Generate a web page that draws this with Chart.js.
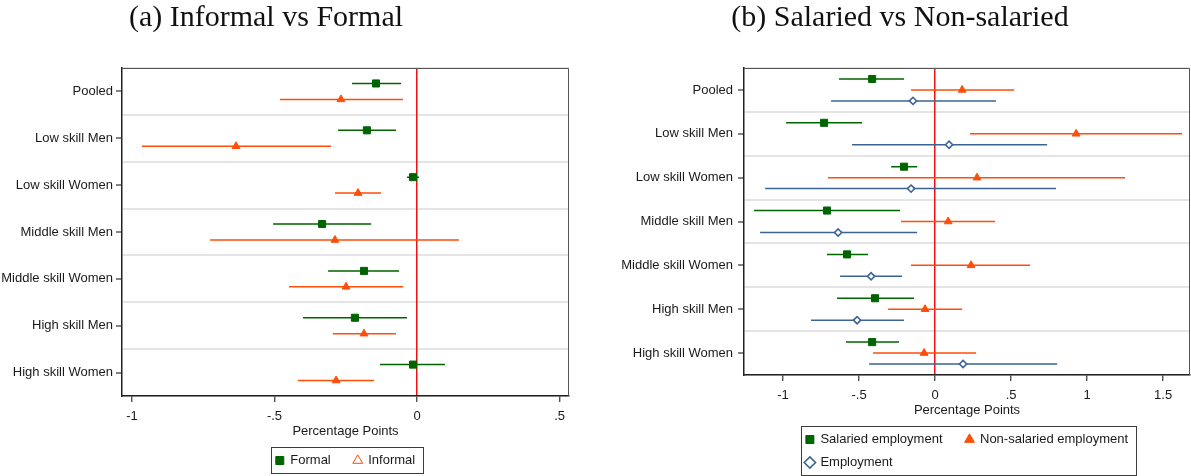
<!DOCTYPE html>
<html>
<head>
<meta charset="utf-8">
<script src="https://cdn.jsdelivr.net/npm/chart.js@4.4.1/dist/chart.umd.min.js"></script>
<style>
  body { margin: 0; background: #fff; }
  #wrap { position: relative; width: 1191px; height: 476px; }
  .panel { position: absolute; top: 0; }
  .ttl { position: absolute; top: 1px; font-family: "Liberation Serif", "Times New Roman", serif; font-size: 30px; line-height: 30px; color: #111; text-align: center; z-index: 2; }
</style>
</head>
<body>
<div id="wrap">
  <div class="ttl" style="left:0; width:532px">(a) Informal vs Formal</div>
  <div class="ttl" style="left:700px; width:400px">(b) Salaried vs Non-salaried</div>
  <div class="panel" style="left:0"><canvas id="informal" width="595" height="476"></canvas></div>
  <div class="panel" style="left:595px"><canvas id="salaried" width="596" height="476"></canvas></div>
</div>
<script>
// groups, top to bottom
const groups = ["Pooled", "Low skill Men", "Low skill Women", "Middle skill Men", "Middle skill Women", "High skill Men", "High skill Women"];

// (a) Informal vs Formal
const formal = [-0.144, -0.176, -0.014, -0.333, -0.186, -0.218, -0.014];
const formalLo = [-0.228, -0.277, -0.035, -0.505, -0.312, -0.400, -0.130];
const formalHi = [-0.056, -0.074, 0.007, -0.161, -0.063, -0.035, 0.098];
const informal = [-0.267, -0.635, -0.207, -0.288, -0.249, -0.186, -0.284];
const informalLo = [-0.481, -0.965, -0.288, -0.726, -0.449, -0.295, -0.418];
const informalHi = [-0.049, -0.302, -0.126, 0.147, -0.049, -0.074, -0.151];

// (b) Salaried vs Non-salaried
const salaried = [-0.414, -0.730, -0.204, -0.711, -0.579, -0.395, -0.414];
const salariedLo = [-0.632, -0.980, -0.289, -1.191, -0.711, -0.645, -0.586];
const salariedHi = [-0.204, -0.480, -0.118, -0.230, -0.441, -0.138, -0.237];
const nonSalaried = [0.178, 0.928, 0.276, 0.086, 0.237, -0.066, -0.072];
const nonSalariedLo = [-0.158, 0.230, -0.704, -0.224, -0.158, -0.309, -0.408];
const nonSalariedHi = [0.520, 1.625, 1.250, 0.395, 0.625, 0.178, 0.270];
const employment = [-0.145, 0.092, -0.158, -0.638, -0.421, -0.513, 0.184];
const employmentLo = [-0.684, -0.546, -1.118, -1.151, -0.625, -0.816, -0.434];
const employmentHi = [0.401, 0.737, 0.796, -0.118, -0.217, -0.204, 0.803];

// x axis ticks
const ticksA = [-1, -0.5, 0, 0.5];
const tickLabelsA = ["-1", "-.5", "0", ".5"];
const ticksB = [-1, -0.5, 0, 0.5, 1, 1.5];
const tickLabelsB = ["-1", "-.5", "0", ".5", "1", "1.5"];

const GREEN = "#006400";
const ORANGE = "#ff4d0a";
const NAVY = "#3a6494";

Chart.defaults.font.family = '"Liberation Sans", Arial, sans-serif';
Chart.defaults.font.size = 13;
Chart.defaults.color = "#1a1a1a";
Chart.defaults.animation = false;

function markers(values, shift) {
  return values.map((v, i) => ({ x: v, y: i + shift }));
}

// one dataset per series, segments split by null points
function spans(lo, hi, shift) {
  const out = [];
  lo.forEach((v, i) => {
    out.push({ x: v, y: i + shift }, { x: hi[i], y: i + shift }, { x: null, y: null });
  });
  return out;
}

function pointSet(label, values, shift, style, color, r, hollow, legendHollow) {
  return {
    label: label,
    data: markers(values, shift),
    pointStyle: style,
    pointRadius: r,
    pointHoverRadius: r,
    backgroundColor: hollow ? "#ffffff" : color,
    borderColor: color,
    borderWidth: hollow ? 1.6 : 1,
    legendFill: legendHollow ? "#ffffff" : null,
    showLine: false
  };
}

function ciSet(lo, hi, shift, color) {
  return {
    data: spans(lo, hi, shift),
    showLine: true,
    spanGaps: false,
    borderColor: color,
    backgroundColor: color,
    borderWidth: 1.5,
    pointRadius: 0,
    pointHoverRadius: 0
  };
}

// legend: cap width so rows wrap like the original, then centre the block under the plot
const legendPlace = {
  id: "legendPlace",
  beforeLayout(chart) {
    const lg = chart.legend;
    if (lg && !lg.capped) {
      const update = lg.update.bind(lg);
      lg.update = (w, h, m) => update(Math.min(w, 360), h, m);
      lg.capped = true;
    }
  },
  afterLayout(chart) {
    const lg = chart.legend;
    const a = chart.chartArea;
    const w = Math.max(...lg.lineWidths) + lg.options.labels.padding;
    lg.left = (a.left + a.right) / 2 - w / 2;
    lg.right = lg.left + w + 1;
    lg.width = w + 1;
  }
};

// top/right plot border and the legend frame
const frame = {
  id: "frame",
  afterDraw(chart) {
    const { ctx, chartArea: a, legend } = chart;
    ctx.save();
    ctx.strokeStyle = "#555";
    ctx.lineWidth = 1;
    ctx.beginPath();
    ctx.moveTo(a.left, a.top + 0.5);
    ctx.lineTo(a.right - 0.5, a.top + 0.5);
    ctx.lineTo(a.right - 0.5, a.bottom);
    ctx.stroke();
    const hb = legend.legendHitBoxes;
    const l = Math.min(...hb.map(b => b.left)) - 5;
    const r = Math.max(...hb.map(b => b.left + b.width)) + 8;
    const t = Math.min(...hb.map(b => b.top)) - 7;
    const btm = Math.max(...hb.map(b => b.top + b.height)) + 6;
    ctx.strokeStyle = "#3c3c3c";
    ctx.strokeRect(Math.round(l) + 0.5, Math.round(t) + 0.5, Math.round(r - l), Math.round(btm - t));
    ctx.restore();
  }
};

function legendOptions() {
  return {
    position: "bottom",
    fullSize: false,
    align: "start",
    labels: {
      usePointStyle: true,
      boxWidth: 8,
      boxHeight: 8,
      padding: 10,
      color: "#1a1a1a",
      generateLabels: chart => Chart.defaults.plugins.legend.labels.generateLabels(chart)
        .filter(item => item.text)
        .map((item, i) => {
          const ds = chart.data.datasets[item.datasetIndex];
          if (ds.legendFill) item.fillStyle = ds.legendFill;
          if (i === 0) item.text += "\u2003";
          return item;
        })
    }
  };
}

function scaleOptions(xTicks, xLabels, xMin, xMax, yWidth, labelPad) {
  return {
    y: {
      type: "linear",
      reverse: true,
      min: -0.5,
      max: groups.length - 0.5,
      afterBuildTicks: s => {
        s.ticks = [];
        for (let v = -0.5; v <= groups.length - 0.5; v += 0.5) s.ticks.push({ value: v });
      },
      afterFit: s => { s.width = yWidth; },
      ticks: {
        autoSkip: false,
        padding: labelPad,
        callback: v => Number.isInteger(v) ? groups[v] : ""
      },
      grid: {
        lineWidth: 2,
        color: c => c.tick && !Number.isInteger(c.tick.value) ? "#e4e4e4" : "rgba(0,0,0,0)",
        tickColor: c => c.tick && Number.isInteger(c.tick.value) ? "#333" : "rgba(0,0,0,0)",
        tickLength: 6,
        tickWidth: 1.2
      },
      border: { color: "#222", width: 1.5 }
    },
    x: {
      type: "linear",
      min: xMin,
      max: xMax,
      afterBuildTicks: s => { s.ticks = xTicks.map(v => ({ value: v })); },
      afterFit: s => { s.height = 48; },
      ticks: {
        padding: 7,
        maxRotation: 0,
        callback: v => xLabels[xTicks.indexOf(v)]
      },
      grid: {
        z: -0.5,
        lineWidth: 1.5,
        color: c => c.tick && c.tick.value === 0 ? "#ee1111" : "rgba(0,0,0,0)",
        tickColor: "#333",
        tickLength: 6,
        tickWidth: 1.2
      },
      border: { color: "#222", width: 1.5 },
      title: { display: true, text: "Percentage Points", padding: { top: 0, bottom: 5 } }
    }
  };
}

let left = new Chart(document.getElementById("informal"), {
  type: "scatter",
  data: {
    datasets: [
      pointSet("Formal", formal, -0.17, "rect", GREEN, 5, false, false),
      pointSet("Informal", informal, 0.17, "triangle", ORANGE, 4.5, false, true),
      ciSet(formalLo, formalHi, -0.17, GREEN),
      ciSet(informalLo, informalHi, 0.17, ORANGE)
    ]
  },
  options: {
    responsive: false,
    layout: { autoPadding: false, padding: { top: 68, right: 26, bottom: -1, left: 0 } },
    scales: scaleOptions(ticksA, tickLabelsA, -1.035, 0.533, 122, 3),
    plugins: {
      legend: legendOptions(),
      tooltip: { enabled: false }
    }
  },
  plugins: [legendPlace, frame]
});

let right = new Chart(document.getElementById("salaried"), {
  type: "scatter",
  data: {
    datasets: [
      pointSet("Salaried employment", salaried, -0.25, "rect", GREEN, 5, false, false),
      pointSet("Non-salaried employment", nonSalaried, 0, "triangle", ORANGE, 4.5, false, false),
      pointSet("Employment", employment, 0.25, "rectRot", NAVY, 3.6, true, true),
      ciSet(salariedLo, salariedHi, -0.25, GREEN),
      ciSet(nonSalariedLo, nonSalariedHi, 0, ORANGE),
      ciSet(employmentLo, employmentHi, 0.25, NAVY)
    ]
  },
  options: {
    responsive: false,
    layout: { autoPadding: false, padding: { top: 68, right: 1, bottom: -3, left: 0 } },
    scales: scaleOptions(ticksB, tickLabelsB, -1.257, 1.677, 149, 5),
    plugins: {
      legend: legendOptions(),
      tooltip: { enabled: false }
    }
  },
  plugins: [legendPlace, frame]
});
</script>
</body>
</html>
